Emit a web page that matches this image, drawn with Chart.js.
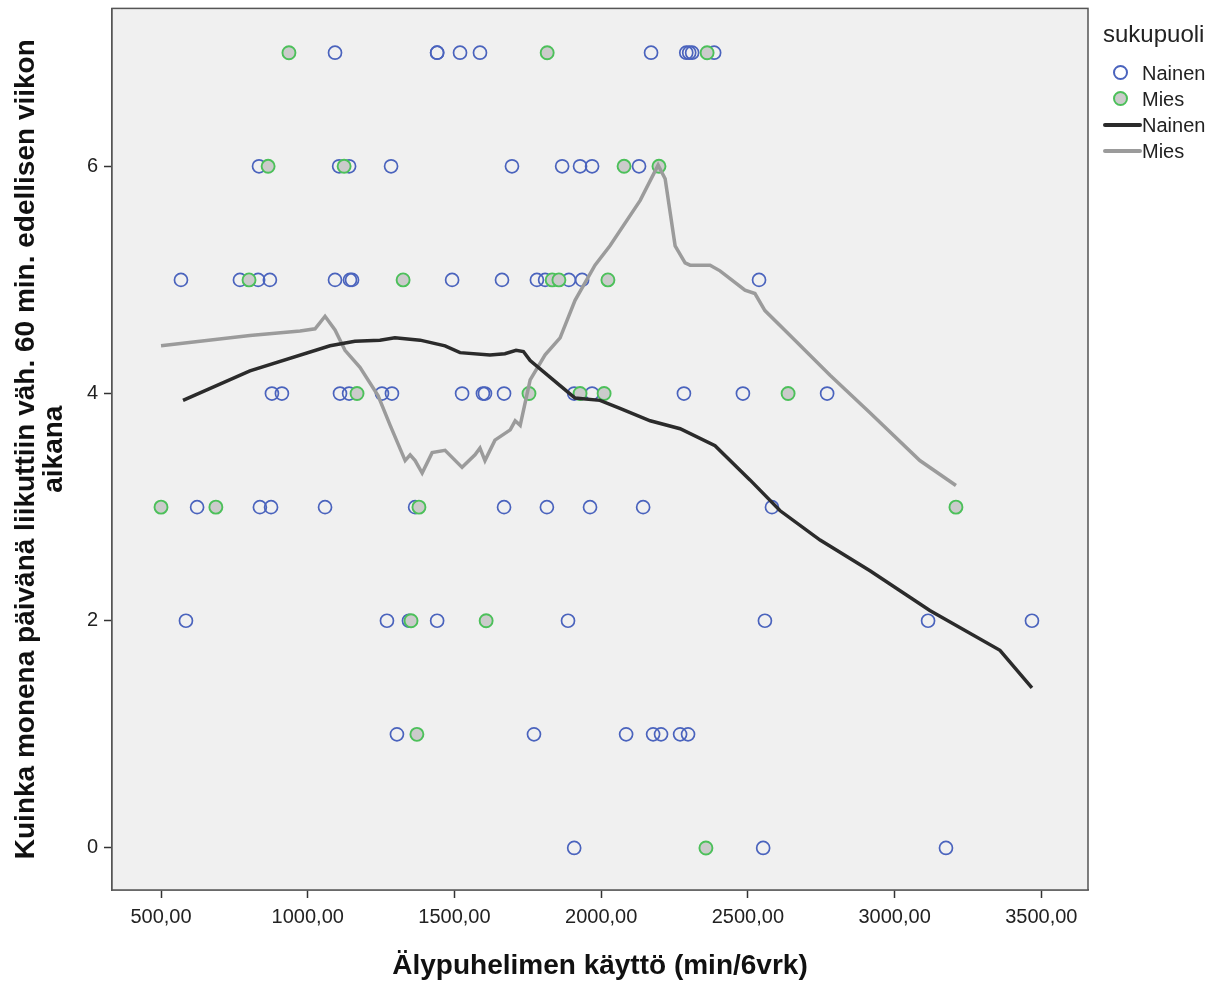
<!DOCTYPE html>
<html lang="fi">
<head>
    <meta charset="UTF-8">
    <title>Älypuhelimen käyttö ja liikunta</title>
    <style>
        body { margin: 0; background: #fff; font-family: "Liberation Sans", Arial, sans-serif; }
        #wrap { position: relative; width: 1222px; height: 987px; }
        #legend { position: absolute; left: 1101px; top: 20px; color: #222; }
        #legend .title { font-size: 24px; margin-bottom: 12px; margin-left: 2px; }
        #legend .item { display: flex; align-items: center; height: 26px; font-size: 20px; }
        #legend .mark { width: 41px; height: 20px; position: relative; }
        .ring { position: absolute; left: 12px; top: 2px; width: 15px; height: 15px; border-radius: 50%; box-sizing: border-box; }
        .stroke { position: absolute; left: 2px; top: 8px; width: 39px; height: 4px; border-radius: 2px; }
    </style>
    <script src="https://cdn.jsdelivr.net/npm/chart.js"></script>
</head>
<body>
<div id="wrap">
    <canvas id="chart"></canvas>
    <div id="legend">
        <div class="title">sukupuoli</div>
        <div class="item"><div class="mark"><div class="ring" style="border:2px solid #4a63bd"></div></div>Nainen</div>
        <div class="item"><div class="mark"><div class="ring" style="border:2px solid #4cc05a;background:#cbcbcb"></div></div>Mies</div>
        <div class="item"><div class="mark"><div class="stroke" style="background:#2b2b2b"></div></div>Nainen</div>
        <div class="item"><div class="mark"><div class="stroke" style="background:#9b9b9b"></div></div>Mies</div>
    </div>
</div>

<script>
    // Havainnot: käyttö (min/6vrk) ja päivät
    const nainenKaytto = [1093, 1441, 1441, 1519, 1587, 2170, 2290, 2300, 2310, 2385,
        834, 1107, 1141, 1284, 1696, 1867, 1928, 1969, 2129,
        568, 769, 831, 871, 1093, 1144, 1151, 1492, 1662, 1781, 1809, 1890, 1935, 2538,
        878, 912, 1110, 1141, 1253, 1287, 1526, 1597, 1604, 1669, 1908, 1969, 2282, 2483, 2770,
        623, 837, 875, 1059, 1366, 1669, 1815, 1962, 2143, 2582,
        585, 1270, 1345, 1441, 1887, 2558, 3114, 3468,
        1304, 1771, 2085, 2177, 2204, 2269, 2296,
        1908, 2552, 3175];
    const nainenPaivat = [7, 7, 7, 7, 7, 7, 7, 7, 7, 7,
        6, 6, 6, 6, 6, 6, 6, 6, 6,
        5, 5, 5, 5, 5, 5, 5, 5, 5, 5, 5, 5, 5, 5,
        4, 4, 4, 4, 4, 4, 4, 4, 4, 4, 4, 4, 4, 4, 4,
        3, 3, 3, 3, 3, 3, 3, 3, 3, 3,
        2, 2, 2, 2, 2, 2, 2, 2,
        1, 1, 1, 1, 1, 1, 1,
        0, 0, 0];
    const miesKaytto = [936, 1816, 2361, 865, 1124, 2078, 2197, 800, 1325, 1833, 1856, 2023,
        1168, 1754, 1928, 2010, 2637, 500, 687, 1379, 3209, 1352, 1608, 1372, 2357];
    const miesPaivat = [7, 7, 7, 6, 6, 6, 6, 5, 5, 5, 5, 5,
        4, 4, 4, 4, 4, 3, 3, 3, 3, 2, 2, 1, 0];

    // Sovitusviivat (loess)
    const nainenSovX = [575, 803, 1076, 1161, 1246, 1297, 1383, 1468, 1519, 1621, 1672, 1710, 1735, 1758,
        1860, 1911, 1996, 2064, 2167, 2269, 2388, 2507, 2609, 2746, 2916, 3120, 3359, 3468];
    const nainenSovY = [3.94, 4.2, 4.42, 4.46, 4.47, 4.49, 4.47, 4.42, 4.36, 4.34, 4.35, 4.38, 4.37, 4.29,
        4.07, 3.96, 3.94, 3.87, 3.76, 3.69, 3.54, 3.24, 2.97, 2.71, 2.44, 2.09, 1.74, 1.41];
    const miesSovX = [500, 803, 974, 1025, 1059, 1093, 1127, 1178, 1240, 1281, 1332, 1349, 1366, 1390,
        1424, 1468, 1526, 1570, 1587, 1604, 1638, 1690, 1707, 1724, 1758, 1809, 1860, 1911, 1979,
        2030, 2133, 2194, 2218, 2252, 2286, 2303, 2371, 2405, 2490, 2524, 2558, 2644, 2780, 2916, 3086, 3209];
    const miesSovY = [4.42, 4.51, 4.55, 4.57, 4.68, 4.56, 4.38, 4.23, 3.98, 3.72, 3.41, 3.46, 3.41, 3.30,
        3.48, 3.50, 3.35, 3.46, 3.52, 3.41, 3.59, 3.68, 3.76, 3.72, 4.12, 4.34, 4.49, 4.82, 5.13,
        5.30, 5.70, 6.01, 5.89, 5.30, 5.15, 5.13, 5.13, 5.08, 4.91, 4.88, 4.73, 4.51, 4.16, 3.83, 3.41, 3.19];

    const xTicks = [500, 1000, 1500, 2000, 2500, 3000, 3500];
    const yTicks = [0, 2, 4, 6];

    const pari = (xs, ys) => xs.map((x, i) => ({ x: x, y: ys[i] }));

    // Harmaa piirtoalue ja kehys
    const kehys = {
        id: 'kehys',
        beforeDatasetsDraw(chart) {
            const a = chart.chartArea, c = chart.ctx;
            c.save();
            c.fillStyle = '#f0f0f0';
            c.fillRect(a.left, a.top, a.right - a.left, a.bottom - a.top);
            c.restore();
        },
        afterDraw(chart) {
            const a = chart.chartArea, c = chart.ctx;
            c.save();
            c.strokeStyle = '#555';
            c.lineWidth = 1.5;
            c.strokeRect(a.left, a.top, a.right - a.left, a.bottom - a.top);
            c.restore();
        }
    };

    new Chart(document.getElementById('chart'), {
        type: 'scatter',
        data: {
            datasets: [
                {
                    label: 'Nainen (sovite)', data: pari(nainenSovX, nainenSovY), showLine: true,
                    borderColor: '#2b2b2b', borderWidth: 3.5, pointRadius: 0, tension: 0, order: 0
                },
                {
                    label: 'Mies (sovite)', data: pari(miesSovX, miesSovY), showLine: true,
                    borderColor: '#9b9b9b', borderWidth: 3.5, pointRadius: 0, tension: 0, order: 0
                },
                {
                    label: 'Nainen', data: pari(nainenKaytto, nainenPaivat),
                    pointRadius: 6.5, pointBorderWidth: 1.7, borderColor: '#4a63bd',
                    backgroundColor: 'rgba(0,0,0,0)', order: 2
                },
                {
                    label: 'Mies', data: pari(miesKaytto, miesPaivat),
                    pointRadius: 6.5, pointBorderWidth: 1.9, borderColor: '#4cc05a',
                    backgroundColor: '#cbcbcb', order: 1
                }
            ]
        },
        options: {
            responsive: true,
            maintainAspectRatio: false,
            animation: false,
            layout: { padding: { left: 0, right: 134, top: 8, bottom: 0 } },
            plugins: { legend: { display: false }, tooltip: { enabled: false } },
            scales: {
                x: {
                    min: 333, max: 3659,
                    afterBuildTicks: s => { s.ticks = xTicks.map(v => ({ value: v })); },
                    afterFit: s => { s.height = 97; s.paddingLeft = 0; s.paddingRight = 0; },
                    grid: { drawOnChartArea: false, tickLength: 8, color: '#333', tickWidth: 1.5 },
                    border: { color: '#555', width: 1.5 },
                    ticks: {
                        color: '#222', font: { size: 20, family: 'Liberation Sans' }, padding: 7,
                        maxRotation: 0, callback: v => v.toFixed(2).replace('.', ',')
                    },
                    title: {
                        display: true, text: 'Älypuhelimen käyttö (min/6vrk)', color: '#111',
                        font: { size: 28, weight: 'bold', family: 'Liberation Sans' },
                        padding: { top: 0, bottom: 4 }
                    }
                },
                y: {
                    min: -0.37, max: 7.39,
                    afterBuildTicks: s => { s.ticks = yTicks.map(v => ({ value: v })); },
                    afterFit: s => { s.width = 112; s.paddingTop = 0; s.paddingBottom = 0; },
                    grid: { drawOnChartArea: false, tickLength: 8, color: '#333', tickWidth: 1.5 },
                    border: { color: '#555', width: 1.5 },
                    ticks: { color: '#222', font: { size: 20, family: 'Liberation Sans' }, padding: 6 },
                    title: {
                        display: true,
                        text: ['Kuinka monena päivänä liikuttiin väh. 60 min. edellisen viikon', 'aikana'],
                        color: '#111', font: { size: 28, weight: 'bold', family: 'Liberation Sans', lineHeight: 1.0 },
                        padding: { top: 12, bottom: 0 }
                    }
                }
            }
        },
        plugins: [kehys]
    });
</script>
</body>
</html>
